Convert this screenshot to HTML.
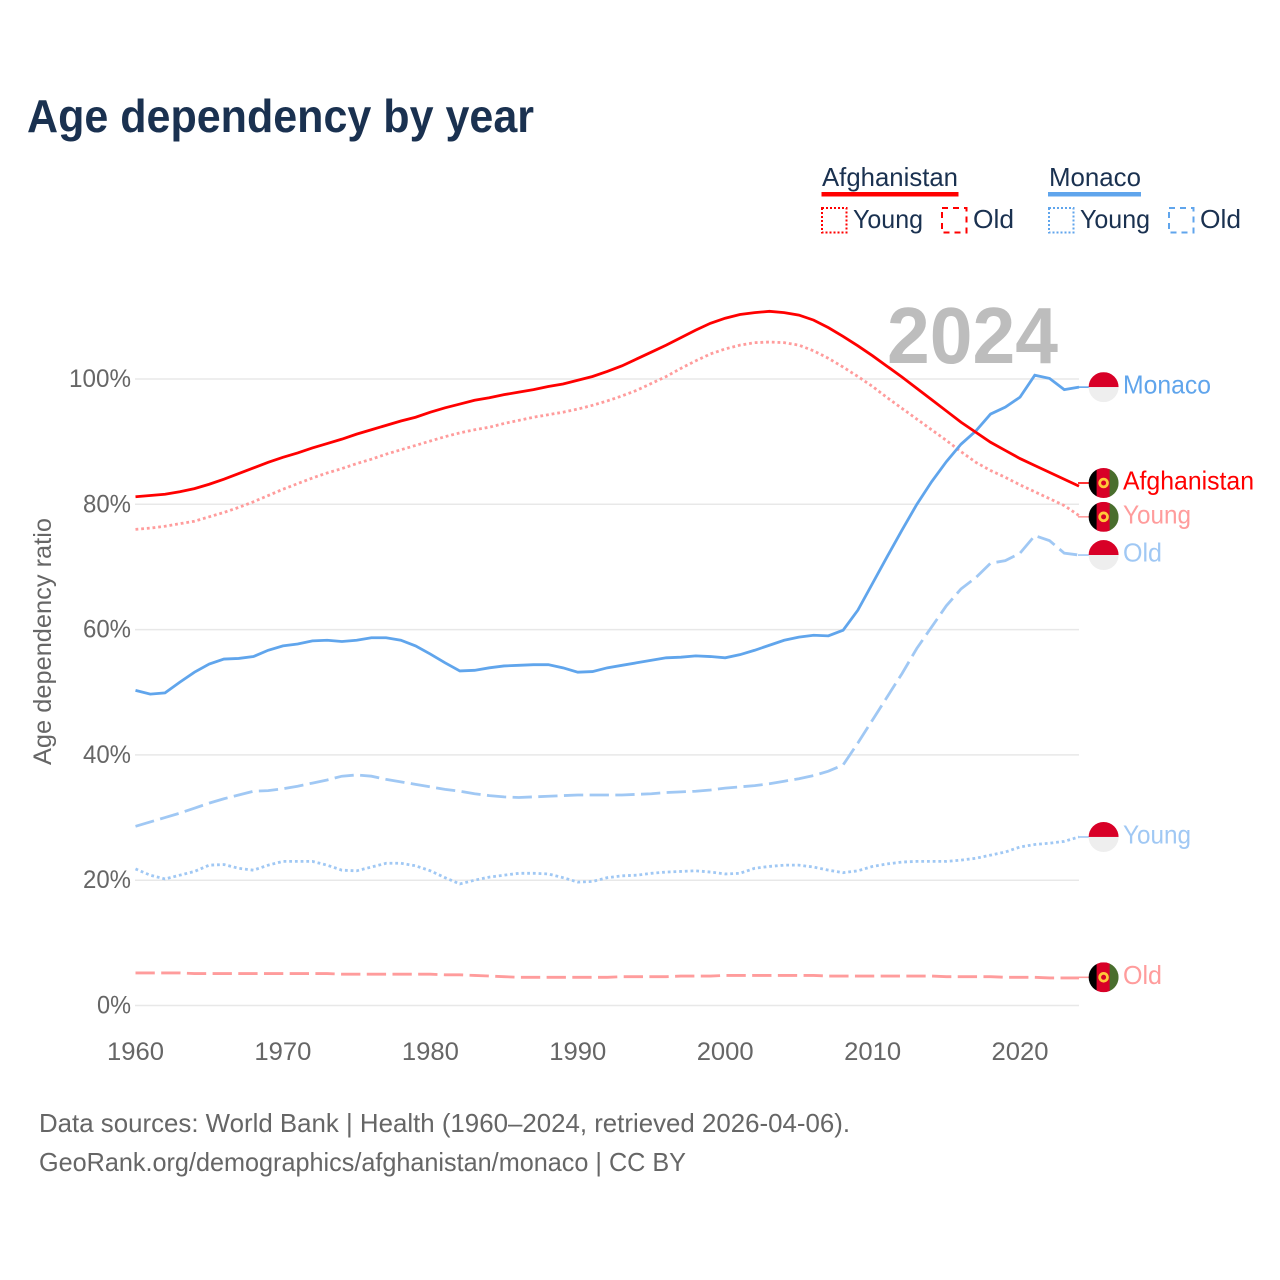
<!DOCTYPE html>
<html>
<head>
<meta charset="utf-8">
<title>Age dependency by year</title>
<style>
html,body{margin:0;padding:0;background:#fff;}
svg{display:block;}
text{font-family:"Liberation Sans",sans-serif;}
</style>
</head>
<body>
<svg id="chart" xmlns="http://www.w3.org/2000/svg" width="1280" height="1280" viewBox="0 0 1280 1280">
  <rect width="1280" height="1280" fill="#fff"/>
  <text x="27" y="132" font-size="46" font-weight="700" fill="#1a3150" textLength="507" lengthAdjust="spacingAndGlyphs">Age dependency by year</text>

  <g>
    <text x="822" y="186" font-size="26" fill="#1a3150" textLength="136" lengthAdjust="spacingAndGlyphs">Afghanistan</text>
    <rect x="821.5" y="192" width="137" height="4.5" fill="#ff0000"/>
    <rect x="822" y="208" width="24.5" height="24.5" fill="none" stroke="#ff0000" stroke-width="2" stroke-dasharray="2 2"/>
    <text x="853" y="228" font-size="26" fill="#1a3150" textLength="70" lengthAdjust="spacingAndGlyphs">Young</text>
    <rect x="942" y="208" width="24.5" height="24.5" fill="none" stroke="#ff0000" stroke-width="2" stroke-dasharray="6 5"/>
    <text x="973" y="228" font-size="26" fill="#1a3150" textLength="41" lengthAdjust="spacingAndGlyphs">Old</text>

    <text x="1049" y="186" font-size="26" fill="#1a3150" textLength="92" lengthAdjust="spacingAndGlyphs">Monaco</text>
    <rect x="1048" y="192" width="93" height="4.5" fill="#60a5ec"/>
    <rect x="1049" y="208" width="24.5" height="24.5" fill="none" stroke="#60a5ec" stroke-width="2" stroke-dasharray="2 2"/>
    <text x="1080" y="228" font-size="26" fill="#1a3150" textLength="70" lengthAdjust="spacingAndGlyphs">Young</text>
    <rect x="1169" y="208" width="24.5" height="24.5" fill="none" stroke="#60a5ec" stroke-width="2" stroke-dasharray="6 5"/>
    <text x="1200" y="228" font-size="26" fill="#1a3150" textLength="41" lengthAdjust="spacingAndGlyphs">Old</text>
  </g>

  <g id="grid"></g>
  <g id="yticks"></g>
  <g id="xticks"></g>
  <text transform="translate(51,765) rotate(-90)" font-size="25" fill="#666" textLength="247" lengthAdjust="spacingAndGlyphs">Age dependency ratio</text>
  <text x="887" y="363" font-size="80" font-weight="700" fill="#bdbdbd" textLength="171" lengthAdjust="spacingAndGlyphs">2024</text>
  <g id="lines"></g>
  <g id="ends"></g>

  <text x="39" y="1132" font-size="26" fill="#666" textLength="811" lengthAdjust="spacingAndGlyphs">Data sources: World Bank | Health (1960–2024, retrieved 2026-04-06).</text>
  <text x="39" y="1171" font-size="26" fill="#666" textLength="647" lengthAdjust="spacingAndGlyphs">GeoRank.org/demographics/afghanistan/monaco | CC BY</text>
</svg>
<script>
const startYear = 1960;
const xTickYears = [1960, 1970, 1980, 1990, 2000, 2010, 2020];
const yTickValues = [0, 20, 40, 60, 80, 100];

const afghanistanTotal = [81.2,81.4,81.6,82.0,82.5,83.2,84.0,84.9,85.8,86.7,87.5,88.2,89.0,89.7,90.4,91.2,91.9,92.6,93.3,93.9,94.7,95.4,96.0,96.6,97.0,97.5,97.9,98.3,98.8,99.2,99.8,100.4,101.2,102.1,103.2,104.3,105.4,106.6,107.8,108.9,109.7,110.3,110.6,110.8,110.6,110.2,109.4,108.2,106.8,105.3,103.7,102.0,100.3,98.5,96.7,94.9,93.1,91.5,89.9,88.6,87.3,86.2,85.1,84.0,82.9];
const afghanistanYoung = [76.0,76.2,76.5,76.9,77.3,78.0,78.7,79.5,80.4,81.4,82.4,83.3,84.2,85.0,85.7,86.5,87.2,88.0,88.7,89.4,90.1,90.8,91.4,91.9,92.3,92.9,93.4,93.9,94.3,94.7,95.2,95.8,96.5,97.3,98.2,99.3,100.4,101.7,102.9,104.0,104.8,105.4,105.8,105.9,105.8,105.4,104.5,103.3,101.9,100.4,98.8,97.0,95.3,93.6,91.9,90.2,88.4,86.7,85.4,84.3,83.1,82.0,80.9,79.8,78.2];
const afghanistanOld = [5.2,5.2,5.2,5.2,5.1,5.1,5.1,5.1,5.1,5.1,5.1,5.1,5.1,5.1,5.0,5.0,5.0,5.0,5.0,5.0,5.0,4.9,4.9,4.8,4.7,4.6,4.5,4.5,4.5,4.5,4.5,4.5,4.5,4.6,4.6,4.6,4.6,4.7,4.7,4.7,4.8,4.8,4.8,4.8,4.8,4.8,4.8,4.7,4.7,4.7,4.7,4.7,4.7,4.7,4.7,4.6,4.6,4.6,4.6,4.5,4.5,4.5,4.4,4.4,4.4];
const monacoTotal = [50.3,49.7,49.9,51.6,53.2,54.5,55.3,55.4,55.7,56.7,57.4,57.7,58.2,58.3,58.1,58.3,58.7,58.7,58.3,57.4,56.1,54.7,53.4,53.5,53.9,54.2,54.3,54.4,54.4,53.9,53.2,53.3,53.9,54.3,54.7,55.1,55.5,55.6,55.8,55.7,55.5,56.0,56.7,57.5,58.3,58.8,59.1,59.0,59.9,63.1,67.4,71.7,75.9,80.0,83.6,86.8,89.6,91.7,94.4,95.5,97.1,100.6,100.1,98.3,98.7];
const monacoYoung = [21.8,20.8,20.2,20.8,21.4,22.4,22.5,21.9,21.6,22.4,23.0,23.0,23.0,22.4,21.6,21.5,22.1,22.7,22.7,22.3,21.5,20.4,19.4,20.0,20.5,20.8,21.1,21.1,21.0,20.4,19.7,19.8,20.4,20.7,20.8,21.1,21.3,21.4,21.5,21.3,21.0,21.1,21.9,22.2,22.4,22.4,22.1,21.6,21.2,21.5,22.2,22.6,22.9,23.0,23.0,23.0,23.2,23.5,24.0,24.5,25.3,25.7,25.9,26.2,26.9];
const monacoOld = [28.6,29.3,30.0,30.7,31.5,32.3,33.0,33.6,34.2,34.3,34.6,35.0,35.5,36.0,36.6,36.8,36.6,36.1,35.7,35.3,34.9,34.5,34.2,33.8,33.5,33.3,33.2,33.3,33.4,33.5,33.6,33.6,33.6,33.6,33.7,33.8,34.0,34.1,34.2,34.4,34.7,34.9,35.1,35.4,35.8,36.2,36.7,37.4,38.4,41.9,45.6,49.3,53.0,57.0,60.4,63.8,66.5,68.3,70.6,71.0,72.2,75.0,74.2,72.2,71.9];

const flagValues = { monacoTotal: 98.7, afghanistanTotal: 83.4, afghanistanYoung: 78.0, monacoOld: 71.9, monacoYoung: 26.9, afghanistanOld: 4.5 };

const SVG_NS = 'http://www.w3.org/2000/svg';
const xScale = function (year) { return 135.5 + (year - 1960) * (1079 - 135.5) / 64; };
const yScale = function (value) { return 1005.5 - value * 6.265; };
const gridLayer = document.getElementById('grid');
const yTickLayer = document.getElementById('yticks');
const xTickLayer = document.getElementById('xticks');
const lineLayer = document.getElementById('lines');
const endLayer = document.getElementById('ends');

function make(tag, attrs, parent) {
  const el = document.createElementNS(SVG_NS, tag);
  Object.keys(attrs).forEach(function (k) { el.setAttribute(k, attrs[k]); });
  parent.appendChild(el);
  return el;
}

yTickValues.forEach(function (v) {
  const grid = make('line', { x1: 135, x2: 1079, y1: yScale(v), y2: yScale(v), stroke: '#e8e8e8', 'stroke-width': 1.5 }, gridLayer);
  
  
  const label = v + '%';
  const t = make('text', { x: 131, y: yScale(v) + 8, 'text-anchor': 'end', 'font-size': 25, fill: '#666', textLength: 14 * label.length + 6, lengthAdjust: 'spacingAndGlyphs' }, yTickLayer);
  t.textContent = label;
  
  
});

xTickYears.forEach(function (yr) {
  const t = make('text', { x: xScale(yr), y: 1060, 'text-anchor': 'middle', 'font-size': 25, fill: '#666', textLength: 57, lengthAdjust: 'spacingAndGlyphs' }, xTickLayer);
  t.textContent = yr;
  
  
});

function pathFrom(values) {
  return values.map(function (v, i) {
    return (i ? 'L' : 'M') + xScale(startYear + i).toFixed(2) + ' ' + yScale(v).toFixed(2);
  }).join(' ');
}

function drawSeries(name, values, color, dash) {
  const p = make('path', { d: pathFrom(values), fill: 'none', stroke: color, 'stroke-width': 2.8, 'stroke-dasharray': dash }, lineLayer);
  
  
}

const RED = '#ff0000', BLUE = '#60a5ec', RED_SOFT = '#ff9c9c', BLUE_SOFT = '#a0c8f4';
const DOTTED = '2.8 2.9', DASHED = '19.3 6.4';
drawSeries('monaco-old', monacoOld, BLUE_SOFT, DASHED);
drawSeries('monaco-young', monacoYoung, BLUE_SOFT, DOTTED);
drawSeries('afghanistan-old', afghanistanOld, RED_SOFT, DASHED);
drawSeries('afghanistan-young', afghanistanYoung, RED_SOFT, DOTTED);
drawSeries('monaco-total', monacoTotal, BLUE, 'none');
drawSeries('afghanistan-total', afghanistanTotal, RED, 'none');

function drawFlag(kind, name, cy) {
  const cx = 1103.6, r = 15;
  const g = make('g', {}, endLayer);
  
  
  const clipId = 'clip-' + name;
  const clip = make('clipPath', { id: clipId }, g);
  make('circle', { cx: cx, cy: cy, r: r }, clip);
  const inner = make('g', { 'clip-path': 'url(#' + clipId + ')' }, g);
  if (kind === 'monaco') {
    make('rect', { x: cx - r, y: cy - r, width: 2 * r, height: r, fill: '#d80027' }, inner);
    make('rect', { x: cx - r, y: cy, width: 2 * r, height: r, fill: '#eeeeee' }, inner);
  } else {
    make('rect', { x: cx - r, y: cy - r, width: 9, height: 2 * r, fill: '#000000' }, inner);
    make('rect', { x: cx - r + 8, y: cy - r, width: 14, height: 2 * r, fill: '#d80027' }, inner);
    make('rect', { x: cx - r + 21, y: cy - r, width: 9, height: 2 * r, fill: '#496e2d' }, inner);
    make('circle', { cx: cx, cy: cy, r: 3.9, fill: 'none', stroke: '#ffc83a', 'stroke-width': 2.8 }, inner);
  }
}

function drawEnd(name, kind, text, color, width, value) {
  const cy = yScale(value);
  const tail = make('path', { d: 'M1078 ' + cy.toFixed(2) + ' L1090 ' + cy.toFixed(2), fill: 'none', stroke: color, 'stroke-width': 1.6 }, endLayer);
  
  
  drawFlag(kind, name, cy);
  const t = make('text', { x: 1123, y: cy + 6.5, 'font-size': 26, fill: color, textLength: width, lengthAdjust: 'spacingAndGlyphs' }, endLayer);
  t.textContent = text;
  
  
}

drawEnd('monaco-total', 'monaco', 'Monaco', BLUE, 88, flagValues.monacoTotal);
drawEnd('afghanistan-total', 'afghanistan', 'Afghanistan', RED, 131, flagValues.afghanistanTotal);
drawEnd('afghanistan-young', 'afghanistan', 'Young', RED_SOFT, 68, flagValues.afghanistanYoung);
drawEnd('monaco-old', 'monaco', 'Old', BLUE_SOFT, 39, flagValues.monacoOld);
drawEnd('monaco-young', 'monaco', 'Young', BLUE_SOFT, 68, flagValues.monacoYoung);
drawEnd('afghanistan-old', 'afghanistan', 'Old', RED_SOFT, 39, flagValues.afghanistanOld);
</script>
</body>
</html>
